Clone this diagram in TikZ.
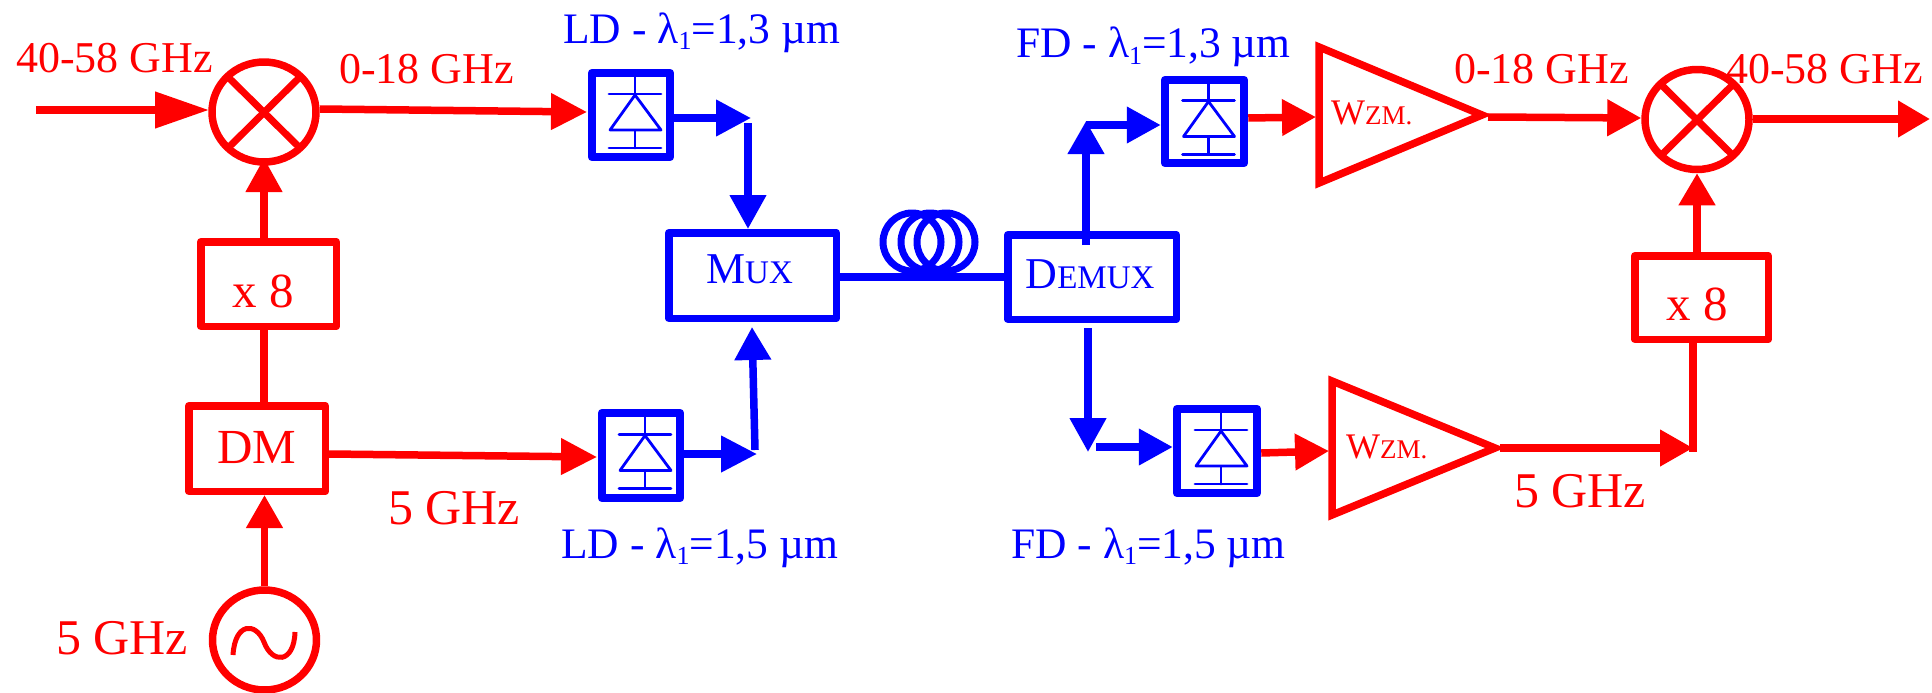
\documentclass[tikz,border=0pt]{standalone}
\usepackage{fontspec}
\setmainfont{Liberation Serif}
\usetikzlibrary{arrows.meta,shapes.geometric}
\newcommand{\sizeA}{\fontsize{44pt}{48pt}\selectfont}
\newcommand{\sizeB}{\fontsize{50pt}{54pt}\selectfont}
\newcommand{\sizeC}{\fontsize{43.5pt}{46pt}\selectfont}
\newcommand{\sizeX}{\fontsize{49pt}{52pt}\selectfont}
\newcommand{\sizeS}{\fontsize{33pt}{36pt}\selectfont}
\newcommand{\sizeW}{\fontsize{36pt}{38pt}\selectfont}
\newcommand{\sizeV}{\fontsize{27pt}{30pt}\selectfont}
\newcommand{\lamlabel}[2]{#1 - λ\raisebox{-6pt}{\fontsize{26pt}{28pt}\selectfont 1}=#2 µm}
\definecolor{pred}{RGB}{255,0,0}
\definecolor{pblue}{RGB}{0,0,255}
\tikzset{
  x=1pt,y=-1pt,
  lw/.style={line width=7.5pt,line join=round},
  rd/.style={lw,draw=pred,text=pred},
  bl/.style={lw,draw=pblue,text=pblue},
  mixer/.style={ellipse,rd,inner sep=0pt,minimum width=104pt,minimum height=100pt},
  ldbox/.style={rectangle,bl,line width=8.5pt,inner sep=0pt,minimum width=78pt,minimum height=84pt},
  redtxt/.style={text=pred,inner sep=0pt,anchor=base west,font=\sizeA},
  bluetxt/.style={text=pblue,inner sep=0pt,anchor=base west,font=\sizeC},
  rarr/.style={rd,-{Triangle[length=#1,width=35pt,sep=0pt]}},
  rarr/.default=35pt,
  barr/.style={bl,-{Triangle[length=#1,width=35pt,sep=0pt]}},
  barr/.default=35pt,
  pics/diodeicon/.style={code={
    \draw[pblue,line width=2.8pt,line cap=round] (4,-39) -- (4,-21)
      (-22,-21) -- (30,-21) (4,16) -- (4,33) (-22,33) -- (30,33);
    \draw[pblue,line width=2.8pt,line join=round] (4,-20) -- (-21,15) -- (30,15) -- cycle;
  }},
  pics/mixcross/.style={code={
    \draw[pred,line width=7pt] (-36,-35) -- (36,36) (36,-35) -- (-36,36);
  }},
}
\begin{document}
\begin{tikzpicture}
\useasboundingbox (0,0) rectangle (1932,693);
% --- nodes
\node[mixer] (mixa) at (264,112) {};
\node[mixer] (mixb) at (1697,119.5) {};
\node[mixer] (osc) at (264.5,640) {};
\node[rectangle,rd,inner sep=0pt,minimum width=135.5pt,minimum height=84.5pt,font=\sizeX,text height=46pt,text depth=0pt] (xa) at (268.5,284) {\hspace*{-11pt}x 8};
\node[rectangle,rd,inner sep=0pt,minimum width=133.5pt,minimum height=83.5pt,font=\sizeX,text height=45pt,text depth=0pt] (xb) at (1701.5,297.5) {\hspace*{-9pt}x 8};
\node[rectangle,rd,inner sep=0pt,minimum width=136.5pt,minimum height=85.5pt,font=\sizeX,text height=29pt,text depth=0pt] (dm) at (257,448.5) {DM};
\node[rectangle,bl,inner sep=0pt,minimum width=167.5pt,minimum height=85.5pt,font=\sizeA,text height=15pt,text depth=0pt] (mux) at (752.5,275.5) {\hspace*{-6pt}M{\sizeS UX}};
\node[rectangle,bl,inner sep=0pt,minimum width=168.5pt,minimum height=84.5pt,font=\sizeA,text height=22pt,text depth=0pt] (demux) at (1092,277) {\hspace*{-4pt}D{\sizeS EMUX}};
\node[ldbox] (lda) at (631,115) {};
\node[ldbox,minimum height=85pt] (ldb) at (641,455.5) {};
\node[ldbox,minimum width=79pt,minimum height=83pt] (fda) at (1204.5,121.5) {};
\node[ldbox,minimum width=80pt,minimum height=84pt] (fdb) at (1217,451) {};
\pic at (lda.center) {diodeicon};
\pic at (ldb.center) {diodeicon};
\pic at (fda.center) {diodeicon};
\pic at (fdb.center) {diodeicon};
\pic at (mixa.center) {mixcross};
\pic at (mixb.center) {mixcross};
% oscillator tilde
\draw[pred,line width=5pt] (233,655) .. controls (235,622) and (256,622) .. (264,642)
   .. controls (272,664) and (294,664) .. (295,632);
% amplifiers
\coordinate (ampatip) at (1482,115);
\coordinate (ampbtip) at (1495,448);
\draw[rd,line join=miter] (1319,47) -- (ampatip) -- (1319,183) -- cycle;
\draw[rd,line join=miter] (1332,381) -- (ampbtip) -- (1332,515) -- cycle;
\node[redtxt,font=\sizeW] (wa) at (1331,124) {W{\sizeV ZM.}};
\node[redtxt,font=\sizeW] (wb) at (1346,458) {W{\sizeV ZM.}};
% fibre
\coordinate (fiba) at (912,242);
\coordinate (fibb) at (930,242);
\coordinate (fibc) at (946,242);
\draw[bl,line width=7pt] (fiba) ellipse [x radius=29,y radius=29];
\draw[bl,line width=7pt] (fibb) ellipse [x radius=29,y radius=29];
\draw[bl,line width=7pt] (fibc) ellipse [x radius=29,y radius=29];
\draw[bl] (mux.east |- 0,277) -- (demux.west |- 0,277);
% --- free coordinates
\coordinate (inA) at (36,110);
\coordinate (inAt) at (209,110);
\coordinate (ldaout) at (751,118);
\coordinate (muxtop) at (748,123);
\coordinate (ldbout) at (757,454);
\coordinate (muxbot) at (755,450);
\coordinate (demuxup) at (1086,245);
\coordinate (upend) at (1086,121);
\coordinate (upstart) at (1086,125);
\coordinate (demuxdn) at (1088,328);
\coordinate (dnend) at (1088,452);
\coordinate (dnstart) at (1096,447);
\coordinate (outb) at (1930,119);
\coordinate (corner) at (1693,448);
% --- red connectors
\draw[rarr=54pt] (inA) -- (inAt);
\draw[rarr=36pt] (320,109) coordinate (mixaout) -- (587,112) coordinate (ldain);
\draw[rarr=34pt] (xa.north -| mixa.center) -- (mixa.center |- 0,158);
\draw[rd] (xa.south -| mixa.center) -- (mixa.center |- 0,408);
\draw[rarr=33pt] (osc.north) -- (osc.center |- dm.south);
\draw[rarr=36pt] (dm.east |- 0,454) -- (597,457) coordinate (ldbin);
\draw[rarr=34pt] (fda.east |- 0,118) -- (1316,117) coordinate (ampain);
\draw[rarr=34pt] (1488,117) coordinate (ampaout) -- (mixb.west |- 0,118);
\draw[rarr=32pt] (mixb.center |- xb.north) -- (mixb.south);
\draw[rarr=32pt] (mixb.east |- 0,119) -- (outb);
\draw[rarr=34pt] (fdb.east |- 0,453) -- (1329,451) coordinate (ampbin);
\draw[rarr=33pt] (1500,448) coordinate (ampbout) -- (corner);
\draw[rd] (xb.south -| corner) -- (1693,451.5);
% --- blue connectors
\draw[barr=35pt] (lda.east |- 0,118) -- (ldaout);
\draw[barr=34pt] (muxtop) -- (mux.north -| muxtop);
\draw[barr=36pt] (ldb.east |- 0,454) -- (ldbout);
\draw[barr=33pt] (muxbot) -- (752,327);
\draw[barr=33pt] (demuxup) -- (upend);
\draw[barr=34pt] (upstart) -- (fda.west |- upstart);
\draw[barr=34pt] (demuxdn) -- (dnend);
\draw[barr=34pt] (dnstart) -- (fdb.west |- dnstart);
% --- labels
\node[redtxt] (t1) at (16,72) {40-58 GHz};
\node[redtxt] (t2) at (339,83) {0-18 GHz};
\node[redtxt] (t3) at (1454,83) {0-18 GHz};
\node[redtxt] (t4) at (1726,83) {40-58 GHz};
\node[redtxt,font=\sizeB] (t5) at (56,654) {5 GHz};
\node[redtxt,font=\sizeB] (t6) at (388,524) {5 GHz};
\node[redtxt,font=\sizeB] (t7) at (1514,507) {5 GHz};
\node[bluetxt] (l1) at (563,44) {\lamlabel{LD}{1,3}};
\node[bluetxt] (l2) at (561,558) {\lamlabel{LD}{1,5}};
\node[bluetxt] (l3) at (1016,58) {\lamlabel{FD}{1,3}};
\node[bluetxt] (l4) at (1011,558) {\lamlabel{FD}{1,5}};
\end{tikzpicture}
\end{document}
